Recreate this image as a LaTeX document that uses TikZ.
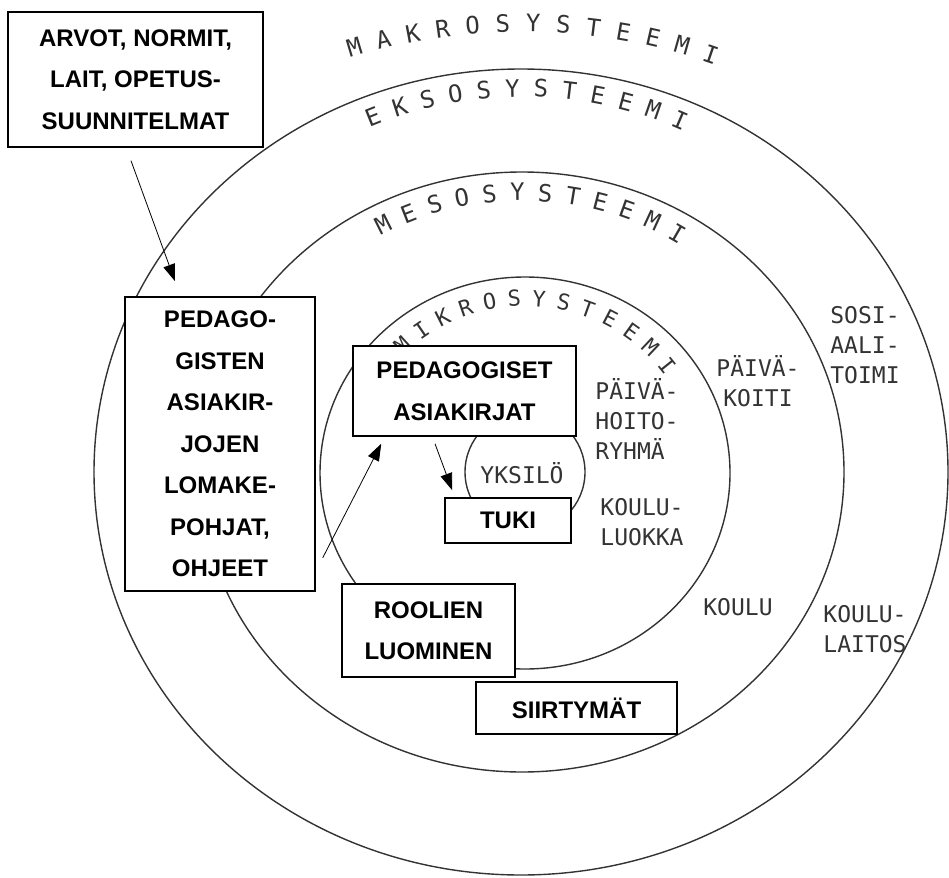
\documentclass[tikz,border=0pt]{standalone}
\usepackage{fontspec}
\setmainfont{Liberation Sans}
\newfontfamily\handfont{DejaVu Sans Mono}
\usepackage{tikz}
\usetikzlibrary{arrows.meta}
\definecolor{HandGrey}{HTML}{333333}

\begin{document}
\begin{tikzpicture}[x=1pt, y=-1pt, >={Triangle[length=17pt,width=12pt]}]
    \tikzstyle{box} = [rectangle, draw=black, fill=white, line width=1.5pt, align=center, inner sep=0pt, font=\fontsize{24}{41.5}\selectfont\bfseries]
    \tikzstyle{ring} = [draw=HandGrey, line width=1.4pt]
    \tikzstyle{ringletter} = [inner sep=0pt, text=HandGrey, font=\handfont\fontsize{24}{24}\selectfont]
    \tikzstyle{hand} = [inner sep=0pt, text=HandGrey, align=center, font=\handfont\fontsize{23}{30}\selectfont]
    \tikzstyle{line} = [draw, ->, line width=0.8pt]

    \useasboundingbox (0,0) rectangle (949,877);

    % the rings
    \draw[ring] (521,472) ellipse [x radius=427, y radius=403];
    \draw[ring] (522,472) ellipse [x radius=322, y radius=300];
    \draw[ring] (525,473) ellipse [x radius=205, y radius=196];
    \draw[ring] (525,472) circle [radius=60];

    % ring names, letter by letter
    \foreach \ch [count=\i from 0] in {M,A,K,R,O,S,Y,S,T,E,E,M,I} {
        \pgfmathsetmacro{\t}{251+3.375*\i}
        \pgfmathsetmacro{\r}{atan2(-449*cos(\t), -515*sin(\t))}
        \node[ringletter, rotate=\r] (makro-\i) at ({522+515*cos(\t)}, {472+449*sin(\t)}) {\ch};
    }
    \foreach \ch [count=\i from 0] in {E,K,S,O,S,Y,S,T,E,E,M,I} {
        \pgfmathsetmacro{\t}{247.7+4.18*\i}
        \pgfmathsetmacro{\r}{atan2(-384*cos(\t), -393*sin(\t))}
        \node[ringletter, rotate=\r] (ekso-\i) at ({522+393*cos(\t)}, {472+384*sin(\t)}) {\ch};
    }
    \foreach \ch [count=\i from 0] in {M,E,S,O,S,Y,S,T,E,E,M,I} {
        \pgfmathsetmacro{\t}{242.1+5.4*\i}
        \pgfmathsetmacro{\r}{atan2(-280*cos(\t), -297*sin(\t))}
        \node[ringletter, rotate=\r] (meso-\i) at ({522+297*cos(\t)}, {472+280*sin(\t)}) {\ch};
    }
    \foreach \ch [count=\i from 0] in {M,I,K,R,O,S,Y,S,T,E,E,M,I} {
        \pgfmathsetmacro{\t}{226.9+7.93*\i}
        \pgfmathsetmacro{\r}{atan2(-175*cos(\t), -180*sin(\t))}
        \node[ringletter, font=\handfont\fontsize{22}{22}\selectfont, rotate=\r] (mikro-\i) at ({525+180*cos(\t)}, {473+175*sin(\t)}) {\ch};
    }

    % hand-written places
    \node[hand] (yksilo) at (522,473) {YKSILÖ};
    \node[hand, align=left] (hoitoryhma) at (637,419) {PÄIVÄ-\\HOITO-\\RYHMÄ};
    \node[hand, align=left] (luokka) at (642,522) {KOULU-\\LUOKKA};
    \node[hand] (paivakoti) at (758,381) {PÄIVÄ-\\KOITI};
    \node[hand] (sosiaali) at (865,345) {SOSI-\\AALI-\\TOIMI};
    \node[hand] (koulu) at (738,607) {KOULU};
    \node[hand, align=left] (laitos) at (865,629) {KOULU-\\LAITOS};

    % boxes
    \node[box, minimum width=255, minimum height=135] (arvot) at (135.5,79.5) {ARVOT, NORMIT,\\LAIT, OPETUS-\\SUUNNITELMAT};
    \node[box, minimum width=190, minimum height=294] (pohjat) at (220,444) {PEDAGO-\\GISTEN\\ASIAKIR-\\JOJEN\\LOMAKE-\\POHJAT,\\OHJEET};
    \node[box, minimum width=223, minimum height=90] (asiakirjat) at (464.5,391) {PEDAGOGISET\\ASIAKIRJAT};
    \node[box, minimum width=126, minimum height=45] (tuki) at (508,520.5) {TUKI};
    \node[box, minimum width=173, minimum height=93] (roolit) at (428.5,630.5) {ROOLIEN\\LUOMINEN};
    \node[box, minimum width=201, minimum height=52] (siirtymat) at (576.5,708) {SIIRTYMÄT};

    \path [line] ([xshift=-4.5pt, yshift=-13pt]arvot.south) -- ([xshift=-45pt, yshift=15pt]pohjat.north);
    \path [line] ([xshift=7pt, yshift=34pt]pohjat.south east) -- ([xshift=29pt, yshift=-7pt]asiakirjat.south west);
    \path [line] ([xshift=-29.5pt, yshift=-7pt]asiakirjat.south) -- ([xshift=8pt, yshift=7pt]tuki.north west);
\end{tikzpicture}
\end{document}
